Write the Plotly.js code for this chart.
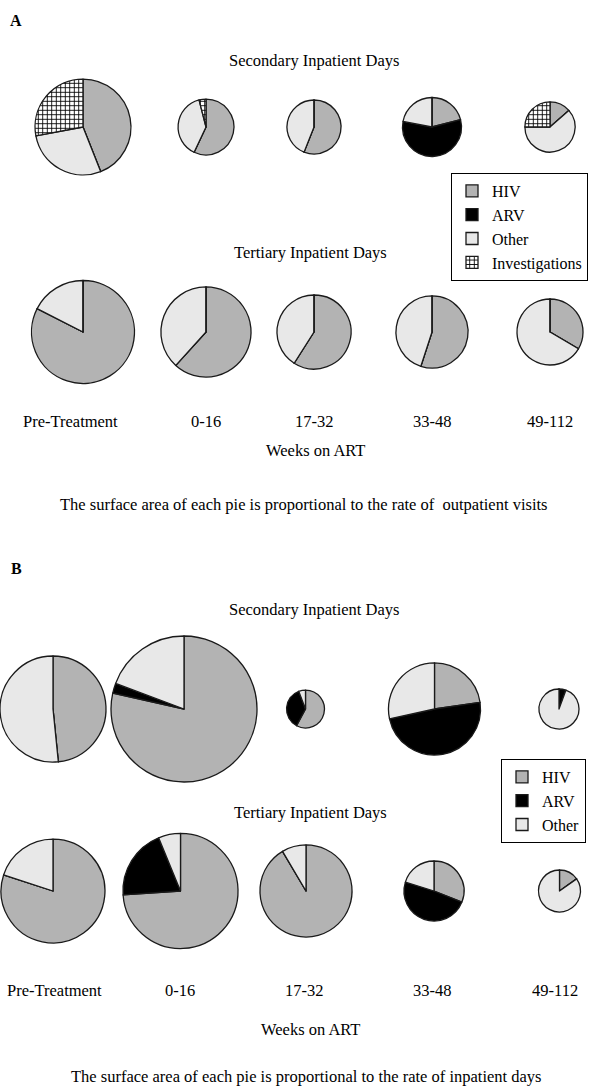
<!DOCTYPE html>
<html>
<head>
<meta charset="utf-8">
<script src="https://cdn.plot.ly/plotly-3.0.1.min.js"></script>
<style>html,body{margin:0;padding:0;background:#fff;}#chart{width:603px;height:1088px;}</style>
</head>
<body>
<div id="chart"></div>
<script>
// ---------- DATA ----------
const periods = ['Pre-Treatment', '0-16', '17-32', '33-48', '49-112'];
const categoriesA = ['HIV', 'ARV', 'Other', 'Investigations'];
const categoriesB = ['HIV', 'ARV', 'Other'];

// Panel A – secondary inpatient days (% of cost)
const aSecHIV   = [44, 57, 56, 21, 13.5];
const aSecARV   = [0, 0, 0, 57, 0];
const aSecOther = [28, 39, 44, 22, 61.5];
const aSecInv   = [28, 4, 0, 0, 25];
// Panel A – tertiary inpatient days
const aTerHIV   = [82.5, 61.7, 59, 55, 33.5];
const aTerARV   = [0, 0, 0, 0, 0];
const aTerOther = [17.5, 38.3, 41, 45, 66.5];
const aTerInv   = [0, 0, 0, 0, 0];
// Panel B – secondary inpatient days
const bSecHIV   = [48.4, 78.5, 57.8, 22.7, 0];
const bSecARV   = [0, 2.2, 36.4, 48.9, 5.6];
const bSecOther = [51.6, 19.3, 5.8, 28.4, 94.4];
// Panel B – tertiary inpatient days
const bTerHIV   = [80, 73.9, 91.5, 31, 15.2];
const bTerARV   = [0, 19.9, 0, 48.8, 0];
const bTerOther = [20, 6.2, 8.5, 20.2, 84.8];

// Relative rates (pie surface area is proportional to these)
const aSecRate = [23.0, 7.8, 7.3, 8.7, 6.3];
const aTerRate = [26.5, 20.3, 13.7, 13.0, 10.9];
const bSecRate = [28.1, 53.3, 3.6, 21.2, 4.0];
const bTerRate = [27.0, 33.1, 21.2, 9.0, 4.4];

// ---------- LAYOUT / STYLE ----------
const W = 603, H = 1088;
const SCALE = 10; // px radius per sqrt(rate)
const FONT = 'Liberation Serif, Times New Roman, serif';
const TXT = 16.5;
const colorMap = {HIV: '#b3b3b3', ARV: '#000000', Other: '#e8e8e8', Investigations: '#ffffff'};

const rows = [
  {cats: categoriesA, vals: [aSecHIV, aSecARV, aSecOther, aSecInv], rate: aSecRate, cy: 127, cx: [83, 206, 314, 432, 550], legend: 'legend', group: 'A'},
  {cats: categoriesA, vals: [aTerHIV, aTerARV, aTerOther, aTerInv], rate: aTerRate, cy: 332, cx: [83, 206, 314, 432, 550], legend: 'legend', group: 'A'},
  {cats: categoriesB, vals: [bSecHIV, bSecARV, bSecOther], rate: bSecRate, cy: 709, cx: [53, 184, 305.5, 434.5, 559], legend: 'legend2', group: 'B'},
  {cats: categoriesB, vals: [bTerHIV, bTerARV, bTerOther], rate: bTerRate, cy: 891, cx: [53, 180.5, 306, 434, 559.5], legend: 'legend2', group: 'B'}
];

const traces = [];
rows.forEach((row, ri) => {
  periods.forEach((p, i) => {
    const r = SCALE * Math.sqrt(row.rate[i]);
    const cx = row.cx[i], cy = row.cy;
    traces.push({
      type: 'pie',
      name: p,
      labels: row.cats,
      values: row.vals.map(v => v[i]),
      sort: false,
      direction: 'clockwise',
      rotation: 0,
      textinfo: 'none',
      hoverinfo: 'label+percent',
      legend: row.legend,
      legendgroup: row.group,
      showlegend: (i === 0),
      marker: {
        colors: row.cats.map(c => colorMap[c]),
        line: {color: '#1a1a1a', width: 1.3},
        pattern: {
          shape: row.cats.map(c => c === 'Investigations' ? '+' : ''),
          fgcolor: '#000000',
          size: 4.5,
          solidity: 0.35
        }
      },
      domain: {
        x: [Math.max(0, (cx - r) / W), Math.min(1, (cx + r) / W)],
        y: [1 - (cy + r) / H, 1 - (cy - r) / H]
      }
    });
  });
});

function ann(text, x, y, size, bold) {
  return {
    text: bold ? '<b>' + text + '</b>' : text,
    x: x / W, y: 1 - y / H, xref: 'paper', yref: 'paper',
    xanchor: 'center', yanchor: 'middle', showarrow: false,
    font: {family: FONT, size: size, color: '#000'}
  };
}

const annotations = [
  ann('A', 16, 20, 16, true),
  ann('Secondary Inpatient Days', 314, 60, TXT),
  ann('Tertiary Inpatient Days', 310, 252, TXT),
  ann('Weeks on ART', 315, 450, TXT),
  ann('The surface area of each pie is proportional to the rate of  outpatient visits', 303, 504, TXT),
  ann('B', 16, 568, 16, true),
  ann('Secondary Inpatient Days', 314, 609, TXT),
  ann('Tertiary Inpatient Days', 310, 812, TXT),
  ann('Weeks on ART', 310, 1029, TXT),
  ann('The surface area of each pie is proportional to the rate of inpatient days', 306, 1076, TXT)
];
const labelXA = [70, 206, 314, 432, 550];
const labelXB = [54, 180, 304, 433, 555];
periods.forEach((p, i) => {
  annotations.push(ann(p, labelXA[i], 421, TXT));
  annotations.push(ann(p, labelXB[i], 990, TXT));
});

const legendStyle = {
  bgcolor: '#ffffff', bordercolor: '#000000', borderwidth: 1,
  font: {family: FONT, size: 16, color: '#000'},
  xanchor: 'left', yanchor: 'top', traceorder: 'normal'
};

const layout = {
  width: W, height: H,
  margin: {l: 0, r: 0, t: 0, b: 0},
  paper_bgcolor: '#ffffff',
  font: {family: FONT},
  annotations: annotations,
  legend: Object.assign({}, legendStyle, {x: 451 / W, y: 1 - 173 / H}),
  legend2: Object.assign({}, legendStyle, {x: 501 / W, y: 1 - 759 / H})
};

Plotly.newPlot('chart', traces, layout, {displayModeBar: false, staticPlot: true});
</script>
</body>
</html>
